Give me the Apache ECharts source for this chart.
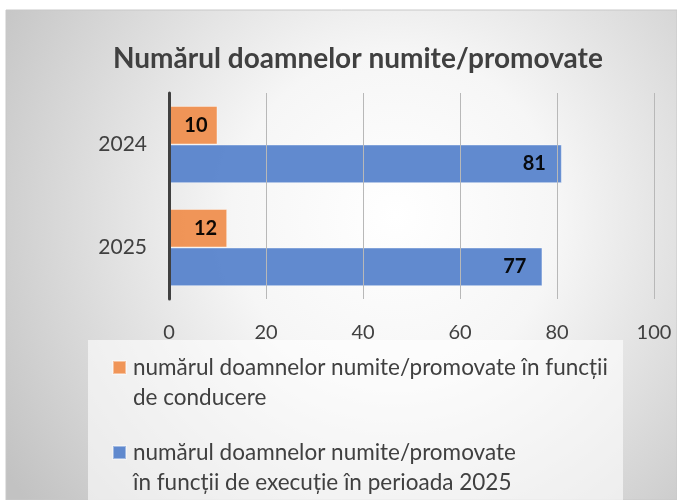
<!DOCTYPE html>
<html>
<head>
<meta charset="utf-8">
<script src="https://cdn.jsdelivr.net/npm/echarts@6/dist/echarts.min.js"></script>
<style>
  html, body { margin: 0; padding: 0; background: #fff; }
  #chart { width: 677px; height: 500px; }
</style>
</head>
<body>
<div id="chart"></div>
<script>
// Women appointed / promoted, by year
const titleText = 'Numărul doamnelor numite/promovate';
const years = ['2024', '2025'];
const conducereName = 'numărul doamnelor numite/promovate în funcții\nde conducere';
const executieName = 'numărul doamnelor numite/promovate\nîn funcții de execuție în perioada 2025';
const conducereValues = [10, 12];
const executieValues = [81, 77];
const xMin = 0, xMax = 100, xStep = 20;

const FONT = 'Lato, "Open Sans", sans-serif';
const TEXT = '#404040';

const chart = echarts.init(document.getElementById('chart'), null, { renderer: 'canvas' });

// One legend block per series; a leading empty line keeps the swatch
// level with the first line of the two-line label.
function legendBlock(name, top) {
  return {
    data: [name],
    left: 112,
    top: top,
    padding: 0,
    itemWidth: 13,
    itemHeight: 13,
    icon: 'rect',
    selectedMode: false,
    formatter: n => ' \n' + n,
    textStyle: {
      fontFamily: FONT,
      fontSize: 22.5,
      color: TEXT,
      lineHeight: 30,
      padding: [0, 0, 0, 2]
    }
  };
}

chart.setOption({
  backgroundColor: '#ffffff',
  animation: false,
  graphic: [
    {
      type: 'rect',
      z: -10,
      shape: { x: 6, y: 10, width: 671, height: 490 },
      style: {
        fill: {
          type: 'radial', x: 0.58, y: 0.42, r: 0.95,
          colorStops: [
            { offset: 0, color: '#ffffff' },
            { offset: 0.35, color: '#f6f6f6' },
            { offset: 1, color: '#c2c2c2' }
          ]
        },
        stroke: '#c8c8c8',
        lineWidth: 1
      }
    },
    {
      type: 'rect',
      z: -9,
      shape: { x: 88, y: 340, width: 535, height: 160 },
      style: { fill: 'rgba(255,255,255,0.6)' }
    }
  ],
  title: {
    text: titleText,
    left: 108,
    top: 40,
    textStyle: { fontFamily: FONT, fontSize: 28, fontWeight: 'bold', color: TEXT }
  },
  legend: [
    legendBlock(conducereName, 322.5),
    legendBlock(executieName, 407.5)
  ],
  grid: { left: 169, right: 23, top: 93, bottom: 201, containLabel: false },
  xAxis: {
    type: 'value',
    min: xMin, max: xMax, interval: xStep,
    z: 5,
    axisLine: { show: false },
    axisTick: { show: false },
    splitLine: { show: true, lineStyle: { color: '#b8b8b8', width: 1 } },
    axisLabel: { fontFamily: FONT, fontSize: 20, color: TEXT, margin: 24 }
  },
  yAxis: {
    type: 'category',
    data: years,
    inverse: true,
    z: 6,
    axisLine: { show: true, lineStyle: { color: '#404040', width: 3 } },
    axisTick: { show: false },
    axisLabel: { fontFamily: FONT, fontSize: 21, color: TEXT, margin: 22 }
  },
  series: [
    {
      name: conducereName,
      type: 'bar',
      data: conducereValues,
      barGap: '0%',
      barCategoryGap: '25%',
      itemStyle: { color: '#ef8f4f', borderColor: 'rgba(255,255,255,0.45)', borderWidth: 1, opacity: 0.95 },
      label: {
        show: true, position: 'insideRight', distance: 10,
        fontFamily: FONT, fontSize: 20, fontWeight: 'bold', color: '#000'
      }
    },
    {
      name: executieName,
      type: 'bar',
      data: executieValues,
      barGap: '0%',
      barCategoryGap: '25%',
      itemStyle: { color: '#5581cb', borderColor: 'rgba(255,255,255,0.45)', borderWidth: 1, opacity: 0.93 },
      label: {
        show: true, position: 'insideRight', distance: 16,
        fontFamily: FONT, fontSize: 20, fontWeight: 'bold', color: '#000'
      }
    }
  ]
});
</script>
</body>
</html>
